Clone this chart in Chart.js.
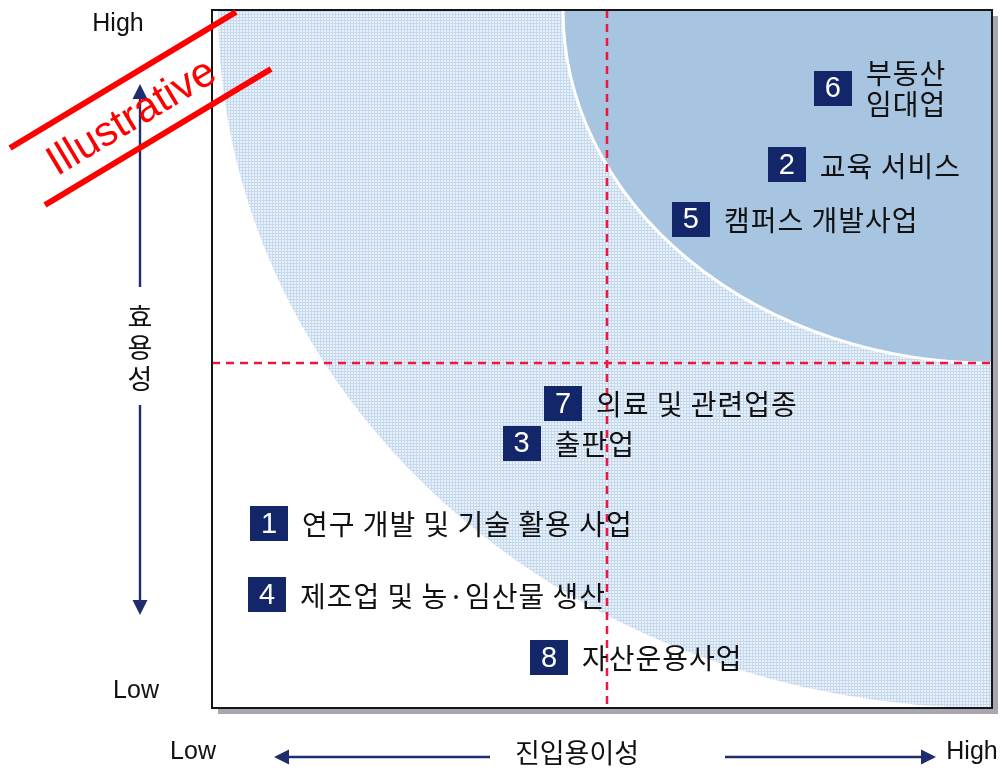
<!DOCTYPE html>
<html><head><meta charset="utf-8">
<script src="https://cdn.jsdelivr.net/npm/chart.js@4.4.1/dist/chart.umd.min.js"></script>
<style>html,body{margin:0;padding:0;background:#fff;}#wrap{width:1002px;height:770px;}</style>
</head><body><div id="wrap"><canvas id="c" width="1002" height="770"></canvas></div>
<script>
// ---- data ----
const itemNumbers = ['1', '2', '3', '4', '5', '6', '7', '8'];
const itemLabels = ['연구 개발 및 기술 활용 사업', '교육 서비스', '출판업', '제조업 및 농·임산물 생산',
  '캠퍼스 개발사업', ['부동산', '임대업'], '의료 및 관련업종', '자산운용사업'];
const easeOfEntry = [7.3, 73.7, 39.7, 7.05, 61.4, 79.6, 45.0, 43.2];   // x : 진입용이성
const utility = [26.4, 77.8, 37.9, 16.2, 70.0, 88.8, 43.6, 7.2];       // y : 효용성
const dividerX = [50.6];
const dividerY = [49.4];
const outerZoneRadii = [99.2, 100];   // measured from top-right corner (High, High)
const innerZoneRadii = [55.0, 50.6];
const axisEnds = ['Low', 'High'];
const yAxisTitle = '효용성';
const xAxisTitle = '진입용이성';
const stampText = 'Illustrative';

const KR = '"Noto Sans CJK KR", "Noto Sans", sans-serif';
const LAT = '"Liberation Sans", Arial, sans-serif';
const NAVY = '#14266a';
const ARROW = '#1f2d6e';
const RED = '#f0173e';

function makePattern(ctx) {
  const t = document.createElement('canvas');
  t.width = 3; t.height = 3;
  const c = t.getContext('2d');
  c.fillStyle = '#eaf1f9'; c.fillRect(0, 0, 3, 3);
  c.fillStyle = '#c4d8ee'; c.fillRect(2, 0, 1, 3); c.fillRect(0, 2, 3, 1);
  return ctx.createPattern(t, 'repeat');
}

const quadPlugin = {
  id: 'quad',
  beforeDatasetsDraw(chart) {
    const { ctx, chartArea: a, scales: { x, y } } = chart;
    ctx.save();
    ctx.fillStyle = '#a7a7b1';
    ctx.fillRect(a.left + 6, a.top + 6, a.right - a.left, a.bottom - a.top);
    ctx.fillStyle = '#ffffff';
    ctx.fillRect(a.left, a.top, a.right - a.left, a.bottom - a.top);
    ctx.beginPath(); ctx.rect(a.left, a.top, a.right - a.left, a.bottom - a.top); ctx.clip();
    const cx = x.getPixelForValue(100), cy = y.getPixelForValue(100);
    const orx = cx - x.getPixelForValue(100 - outerZoneRadii[0]);
    const ory = y.getPixelForValue(100 - outerZoneRadii[1]) - cy;
    ctx.beginPath(); ctx.ellipse(cx, cy, orx, ory, 0, 0, Math.PI * 2);
    ctx.fillStyle = makePattern(ctx); ctx.fill();
    const irx = cx - x.getPixelForValue(100 - innerZoneRadii[0]);
    const iry = y.getPixelForValue(100 - innerZoneRadii[1]) - cy;
    ctx.beginPath(); ctx.ellipse(cx, cy, irx, iry, 0, 0, Math.PI * 2);
    ctx.fillStyle = '#a7c4e1'; ctx.fill();
    ctx.lineWidth = 3; ctx.strokeStyle = '#ffffff'; ctx.stroke();
    ctx.strokeStyle = RED; ctx.lineWidth = 2.5; ctx.setLineDash([8, 6]);
    const vx = Math.round(x.getPixelForValue(dividerX[0]));
    ctx.beginPath(); ctx.moveTo(vx, a.top); ctx.lineTo(vx, a.bottom); ctx.stroke();
    const hy = Math.round(y.getPixelForValue(dividerY[0]));
    ctx.beginPath(); ctx.moveTo(a.left, hy); ctx.lineTo(a.right, hy); ctx.stroke();
    ctx.restore();
    ctx.save();
    ctx.strokeStyle = '#161616'; ctx.lineWidth = 2;
    ctx.strokeRect(a.left, a.top, a.right - a.left, a.bottom - a.top);
    ctx.restore();
  },
  afterDatasetsDraw(chart) {
    const { ctx } = chart;
    const meta = chart.getDatasetMeta(0);
    ctx.save();
    meta.data.forEach((pt, i) => {
      const bx = pt.x, by = pt.y;
      ctx.fillStyle = NAVY;
      ctx.fillRect(Math.round(bx - 19), Math.round(by - 17.5), 38, 35);
      ctx.fillStyle = '#ffffff';
      ctx.font = '29px ' + LAT;
      ctx.textAlign = 'center'; ctx.textBaseline = 'middle';
      ctx.fillText(itemNumbers[i], bx, by + 1);
      ctx.fillStyle = '#111111';
      ctx.font = '28px ' + KR;
      ctx.textAlign = 'left';
      if ('letterSpacing' in ctx) ctx.letterSpacing = '1px';
      const lines = Array.isArray(itemLabels[i]) ? itemLabels[i] : [itemLabels[i]];
      const lh = 31;
      lines.forEach((ln, k) => {
        const ty = by + 1 + (k - (lines.length - 1) / 2) * lh;
        ctx.fillText(ln, bx + 19 + 14, ty);
      });
      if ('letterSpacing' in ctx) ctx.letterSpacing = '0px';
    });
    ctx.restore();
  },
  afterDraw(chart) {
    const { ctx } = chart;
    ctx.save();
    ctx.strokeStyle = ARROW; ctx.fillStyle = ARROW; ctx.lineWidth = 2.4;
    const line = (x1, y1, x2, y2) => { ctx.beginPath(); ctx.moveTo(x1, y1); ctx.lineTo(x2, y2); ctx.stroke(); };
    const head = (tx, ty, dx, dy) => {
      const px = -dy, py = dx;
      ctx.beginPath(); ctx.moveTo(tx, ty);
      ctx.lineTo(tx - dx * 15 + px * 7.5, ty - dy * 15 + py * 7.5);
      ctx.lineTo(tx - dx * 15 - px * 7.5, ty - dy * 15 - py * 7.5);
      ctx.closePath(); ctx.fill();
    };
    line(140, 96, 140, 287); head(140, 84, 0, -1);
    line(140, 405, 140, 603); head(140, 615, 0, 1);
    line(287, 757, 490, 757); head(274, 757, -1, 0);
    line(725, 757, 922, 757); head(936, 757, 1, 0);
    ctx.fillStyle = '#111111'; ctx.textAlign = 'center'; ctx.textBaseline = 'middle';
    ctx.font = '25px ' + LAT;
    ctx.fillText(axisEnds[1], 118, 24);
    ctx.fillText(axisEnds[0], 136, 691);
    ctx.fillText(axisEnds[0], 193, 752);
    ctx.fillText(axisEnds[1], 972, 752);
    ctx.font = '27px ' + KR;
    [...yAxisTitle].forEach((ch, k) => ctx.fillText(ch, 140, 317 + k * 31));
    ctx.fillText(xAxisTitle, 577, 753);
    ctx.strokeStyle = '#ff0000'; ctx.lineWidth = 6; ctx.lineCap = 'butt';
    line(10, 148, 236, 12);
    line(45, 205, 271, 69);
    ctx.translate(132, 118);
    ctx.rotate(-31 * Math.PI / 180);
    ctx.fillStyle = '#ff0000';
    ctx.font = '42px ' + LAT;
    ctx.fillText(stampText, 0, 0);
    ctx.restore();
  }
};

new Chart(document.getElementById('c').getContext('2d'), {
  type: 'scatter',
  data: { datasets: [{ data: easeOfEntry.map((v, i) => ({ x: v, y: utility[i] })), pointRadius: 0, pointHoverRadius: 0 }] },
  options: {
    responsive: false, animation: false, events: [],
    layout: { padding: { left: 212, top: 10, right: 10, bottom: 62 }, autoPadding: false },
    plugins: { legend: { display: false }, tooltip: { enabled: false } },
    scales: {
      x: { type: 'linear', min: 0, max: 100, display: false },
      y: { type: 'linear', min: 0, max: 100, display: false }
    }
  },
  plugins: [quadPlugin]
});
</script></body></html>
